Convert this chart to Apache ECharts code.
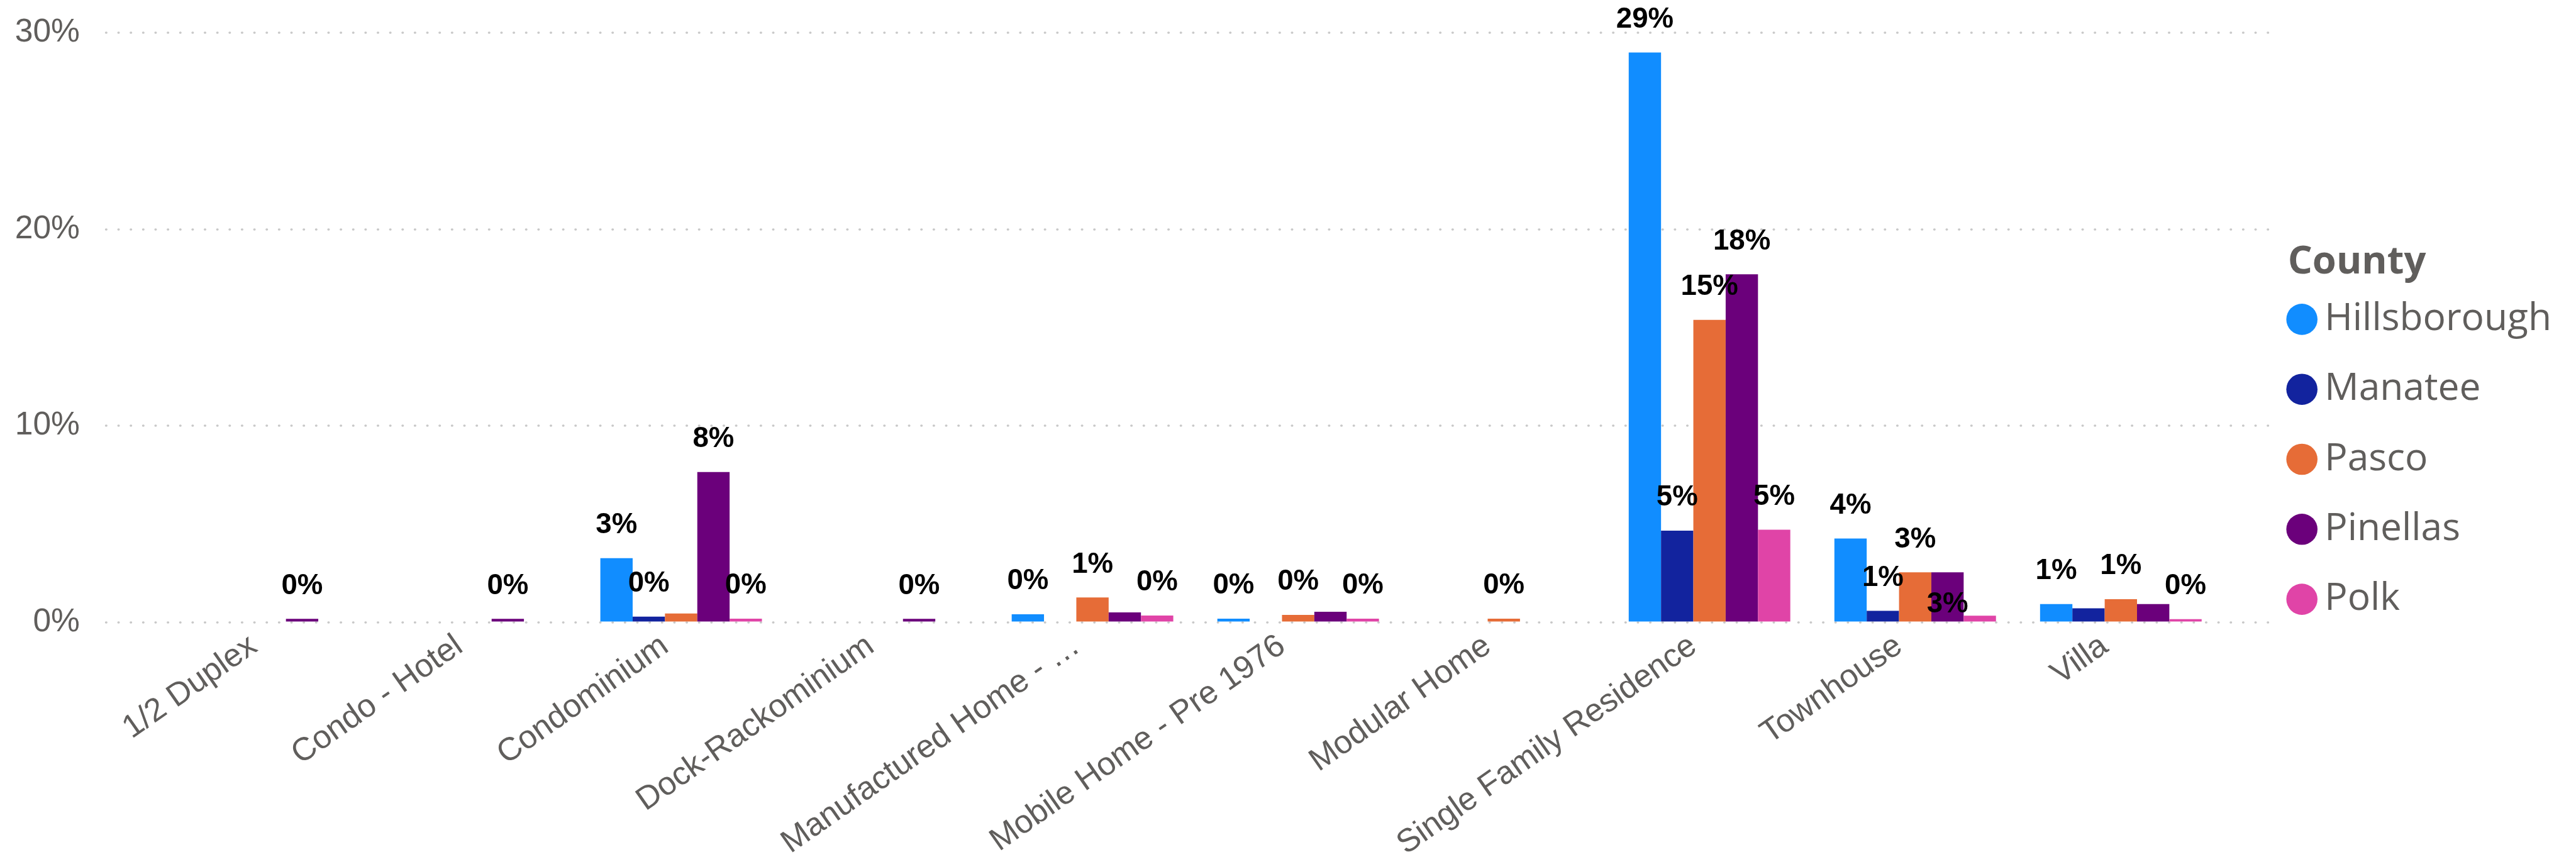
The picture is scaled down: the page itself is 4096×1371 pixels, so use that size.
<!DOCTYPE html>
<html>
<head>
<meta charset="utf-8">
<script src="https://cdn.jsdelivr.net/npm/echarts@6/dist/echarts.min.js"></script>
<style>
html,body{margin:0;padding:0;background:#fff;}
#chart{width:4096px;height:1371px;}
</style>
</head>
<body>
<div id="chart"></div>
<script>
// ---- data ----
const categories = ["1/2 Duplex","Condo - Hotel","Condominium","Dock-Rackominium","Manufactured Home - …","Mobile Home - Pre 1976","Modular Home","Single Family Residence","Townhouse","Villa"];
const counties = ["Hillsborough","Manatee","Pasco","Pinellas","Polk"];
const hillsborough = [null, null, 3.23, null, 0.37, 0.15, null, 28.99, 4.23, 0.89];
const manatee      = [null, null, 0.25, null, null, null, null, 4.63, 0.55, 0.68];
const pasco        = [null, null, 0.41, null, 1.23, 0.34, 0.15, 15.37, 2.51, 1.14];
const pinellas     = [0.14, 0.14, 7.62, 0.14, 0.47, 0.50, null, 17.69, 2.51, 0.89];
const polk         = [null, null, 0.15, null, 0.31, 0.15, null, 4.68, 0.30, 0.12];
const yTicks = [0, 10, 20, 30];
// labels that the original hides / puts inside the bar base
const hiddenLabels = {Manatee:[9], Pasco:[2], Pinellas:[4,5,9], Polk:[8]};
const insideBaseLabels = {Pinellas:[8]};

const s = 0.992;
const colors = ["#118DFF","#12239E","#E66C37","#6B007B","#E044A7"];
const seriesValues = [hillsborough, manatee, pasco, pinellas, polk];
const grayText = "#605E5C";

const gridTop = 52.5*s, gridBottom = (1382-997.5)*s;

const series = counties.map((name, i) => ({
  name: name,
  type: 'bar',
  xAxisIndex: 1,
  yAxisIndex: 1,
  barWidth: 51.8*s,
  barGap: '0%',
  itemStyle: {color: colors[i]},
  emphasis: {disabled: true},
  label: {
    show: true,
    position: 'top',
    distance: 29.5*s,
    formatter: p => Math.round(p.value) + '%',
    fontFamily: 'Liberation Sans, Arial, sans-serif',
    fontWeight: 'bold',
    fontSize: 46*s,
    color: '#000'
  },
  data: seriesValues[i].map((v, j) => {
    if (v === null) return null;
    const item = {value: v};
    if ((hiddenLabels[name] || []).includes(j)) item.label = {show: false};
    if ((insideBaseLabels[name] || []).includes(j)) item.label = {show: true, position: 'insideBottom', distance: 4*s};
    return item;
  })
}));

const chart = echarts.init(document.getElementById('chart'), null, {renderer: 'canvas'});
chart.setOption({
  animation: false,
  backgroundColor: '#fff',
  grid: [
    {left: 170*s, right: (4128-3652)*s, top: gridTop, bottom: gridBottom},
    {left: 267.6*s, right: (4128-3563.3)*s, top: gridTop, bottom: gridBottom}
  ],
  xAxis: [
    {type: 'category', gridIndex: 0, data: categories, show: false},
    {type: 'category', gridIndex: 1, data: categories,
     axisLine: {show: false}, axisTick: {show: false},
     axisLabel: {interval: 0, rotate: 35, margin: 16*s, padding: [0, 31.5*s, 0, 0],
                 fontFamily: 'Liberation Sans, Arial, sans-serif', fontSize: 52*s, color: grayText}}
  ],
  yAxis: [
    {type: 'value', gridIndex: 0, min: yTicks[0], max: yTicks[yTicks.length-1], interval: 10,
     axisLine: {show: false}, axisTick: {show: false},
     axisLabel: {margin: 42*s, formatter: '{value}%', fontFamily: 'Liberation Sans, Arial, sans-serif', fontSize: 52*s, color: grayText},
     splitLine: {show: true, lineStyle: {color: '#C8C8C8', width: 3.6*s, type: [0.5*s, 19.3*s], cap: 'round'}}},
    {type: 'value', gridIndex: 1, min: yTicks[0], max: yTicks[yTicks.length-1], interval: 10, show: false, splitLine: {show: false}}
  ],
  legend: {
    data: counties,
    orient: 'vertical',
    left: 3664.7*s,
    top: 481*s,
    padding: 0,
    itemWidth: 50*s,
    itemHeight: 50*s,
    itemGap: 50.2*s,
    icon: 'circle',
    selectedMode: false,
    textStyle: {fontFamily: 'Open Sans', fontSize: 61*s, lineHeight: 62*s, color: grayText, padding: [0,0,0,6.3*s]}
  },
  graphic: [
    {type: 'text', left: 3667*s, top: 390*s,
     style: {text: 'County', fontFamily: 'Open Sans', fontWeight: 'bold', fontSize: 62*s, fill: grayText}}
  ],
  series: series
});
</script>
</body>
</html>
